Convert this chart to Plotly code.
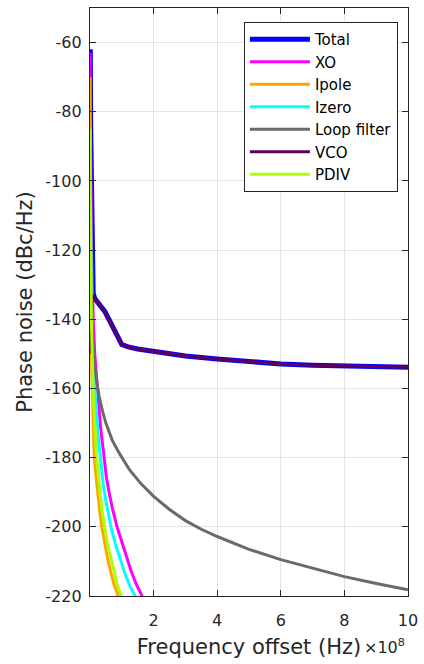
import plotly.graph_objects as go

# ---------------- data (frequency offsets in Hz, phase noise in dBc/Hz) ----------------
total_f = [1e5, 1e6, 2e6, 5e6, 8e6, 1.0e7, 1.5e7, 2.6e7, 3.5e7, 4.7e7, 1.0e8, 1.2e8, 1.5e8,
           2e8, 2.5e8, 3e8, 4e8, 5e8, 6e8, 7e8, 8e8, 9e8, 1e9]
total_db = [-62, -62.5, -84, -118, -129, -132.5, -134, -135.4, -136.5, -137.8, -147.3, -148.0, -148.6,
            -149.3, -149.9, -150.6, -151.5, -152.3, -152.9, -153.3, -153.5, -153.7, -153.9]

xo_f = [1e5, 5e5, 1e6, 2e6, 5e6, 1e7, 1.5e7, 2e7, 2.6e7, 3.3e7, 4.2e7, 5.2e7, 6e7, 7e7, 8.5e7,
        1.0e8, 1.15e8, 1.3e8, 1.45e8, 1.63e8, 1.8e8]
xo_db = [-63, -66, -72, -92, -120, -140, -150, -157, -163, -171, -179, -186, -190, -194.5, -200,
         -204.5, -209, -213, -216.5, -220, -223]

ipole_f = [1e5, 3e5, 1e6, 3e6, 5e6, 7e6, 1e7, 1.3e7, 1.6e7, 2.1e7, 2.4e7, 3e7, 3.7e7, 4.5e7,
           5.5e7, 6.5e7, 7.5e7, 8.9e7, 1.0e8]
ipole_db = [-70, -87, -115, -141, -153, -162, -173, -179, -182.5, -187.5, -190, -195, -200, -204.5,
            -209, -213, -216.5, -220, -223]

izero_f = [1e5, 1e6, 2e6, 5e6, 1e7, 1.5e7, 2.1e7, 2.7e7, 3.3e7, 4.2e7, 4.9e7, 5.7e7, 6.6e7, 8e7,
           9.5e7, 1.1e8, 1.25e8, 1.44e8, 1.6e8]
izero_db = [-88, -100, -115, -138, -153, -161, -168, -175, -181, -188, -192, -196, -200, -205,
            -209.5, -213.5, -217, -220.5, -223]

loop_f = [1e5, 1e6, 2e6, 5e6, 1e7, 1.35e7, 2e7, 2.9e7, 4e7, 5e7, 7e7, 9.2e7, 1.24e8, 1.6e8,
          2e8, 2.5e8, 3e8, 3.5e8, 4e8, 5e8, 6e8, 7e8, 8e8, 9e8, 1e9]
loop_db = [-90, -112, -125, -140, -149, -152.7, -157.5, -162.4, -166.8, -170, -175, -178.7, -183.5,
           -187.5, -191.2, -195, -198.2, -200.7, -202.8, -206.5, -209.5, -212, -214.4, -216.4, -218.2]

vco_f = [1e6, 5e6, 1.0e7, 1.5e7, 2.6e7, 3.5e7, 4.7e7, 1.0e8, 1.2e8, 1.5e8, 2e8, 2.5e8, 3e8, 4e8,
         5e8, 6e8, 7e8, 8e8, 9e8, 1e9]
vco_db = [-150, -135, -133, -134.2, -135.5, -136.6, -137.9, -147.3, -148.0, -148.6, -149.3, -149.9,
          -150.6, -151.5, -152.3, -152.9, -153.3, -153.5, -153.7, -153.9]

pdiv_f = [1e5, 5e5, 1e6, 2e6, 5e6, 1e7, 1.5e7, 2e7, 2.4e7, 3e7, 3.7e7, 4.6e7, 5.5e7, 6.7e7,
          7.5e7, 8.5e7, 1.0e8, 1.1e8]
pdiv_db = [-85, -88, -101, -119, -143, -161, -171, -179, -183, -189.5, -195, -200, -205, -209.5,
           -213, -216.5, -220.5, -223]

series_names = ["Total", "XO", "Ipole", "Izero", "Loop filter", "VCO", "PDIV"]
series_colors = ["#0000FF", "#FF00FF", "#FFA500", "#00FFFF", "#6A6A6A", "#5E005E", "#ADFF00"]
series_widths = [5, 3, 3, 3, 3, 3, 3]
series_data = [(total_f, total_db), (xo_f, xo_db), (ipole_f, ipole_db), (izero_f, izero_db),
               (loop_f, loop_db), (vco_f, vco_db), (pdiv_f, pdiv_db)]

x_scale = 1e8
x_tickvals = [2, 4, 6, 8, 10]
x_ticktext = ["2", "4", "6", "8", "10"]
y_tickvals = [-220, -200, -180, -160, -140, -120, -100, -80, -60]
y_ticktext = ["-220", "-200", "-180", "-160", "-140", "-120", "-100", "-80", "-60"]

FONT = "DejaVu Sans, Arial, sans-serif"
INK = "#262626"

fig = go.Figure()
for name, color, width, (f, db) in zip(series_names, series_colors, series_widths, series_data):
    fig.add_trace(go.Scatter(
        x=[v / x_scale for v in f], y=db, mode="lines", name=name,
        line=dict(color=color, width=width),
    ))

axis_common = dict(
    showline=True, linecolor=INK, linewidth=1.3, mirror="ticks",
    ticks="inside", ticklen=6, tickwidth=1, tickcolor=INK,
    showgrid=True, gridcolor="#E3E3E3", gridwidth=1, zeroline=False,
    tickfont=dict(family=FONT, size=16, color=INK),
)

fig.update_xaxes(
    range=[0, 10], tickmode="array", tickvals=x_tickvals, ticktext=x_ticktext,
    title=dict(text="Frequency offset (Hz)", font=dict(family=FONT, size=21, color=INK), standoff=9),
    ticklabelstandoff=10,
    **axis_common,
)
fig.update_yaxes(
    range=[-220, -50], tickmode="array", tickvals=y_tickvals, ticktext=y_ticktext,
    title=dict(text="Phase noise (dBc/Hz)", font=dict(family=FONT, size=21, color=INK), standoff=6),
    ticklabelstandoff=4,
    **axis_common,
)

fig.add_annotation(
    xref="paper", yref="paper", x=0.855, y=-0.086, xanchor="left", yanchor="middle",
    text="×10<sup>8</sup>", showarrow=False, font=dict(family=FONT, size=16, color=INK),
)

fig.update_layout(
    width=424, height=664,
    margin=dict(l=90, r=16, t=8, b=68, autoexpand=False),
    paper_bgcolor="white", plot_bgcolor="white",
    showlegend=True,
    legend=dict(
        x=0.484, y=0.976, xanchor="left", yanchor="top",
        bgcolor="white", bordercolor=INK, borderwidth=1,
        font=dict(family=FONT, size=15, color="#000000"),
        itemwidth=60, tracegroupgap=0,
    ),
)

fig.write_html("out.html")
